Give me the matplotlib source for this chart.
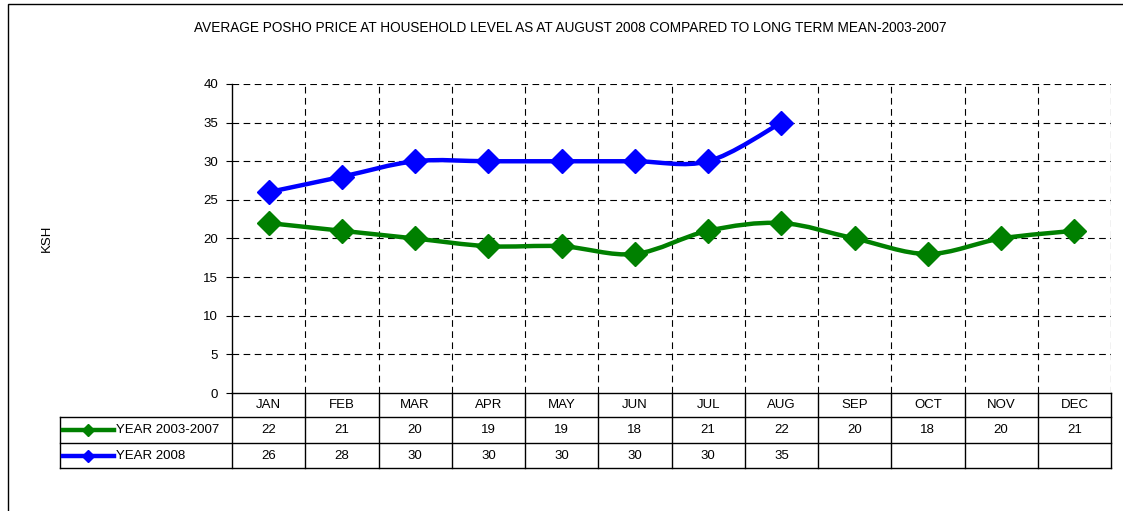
import numpy as np
import matplotlib
matplotlib.use("Agg")
import matplotlib.pyplot as plt
from matplotlib.path import Path
from matplotlib.patches import PathPatch, Rectangle
from matplotlib.lines import Line2D

plt.rcParams['font.family'] = ['Liberation Sans', 'DejaVu Sans']

# data
months = ['JAN', 'FEB', 'MAR', 'APR', 'MAY', 'JUN', 'JUL', 'AUG', 'SEP', 'OCT', 'NOV', 'DEC']
mean_2003_2007 = [22, 21, 20, 19, 19, 18, 21, 22, 20, 18, 20, 21]
year_2008 = [26, 28, 30, 30, 30, 30, 30, 35]
series_names = ['YEAR 2003-2007', 'YEAR 2008']
series_colors = ['#008000', '#0000FF']
title = "AVERAGE POSHO PRICE AT HOUSEHOLD LEVEL AS AT AUGUST 2008 COMPARED TO LONG TERM MEAN-2003-2007"


def smooth_path(x, y):
    # Catmull-Rom style bezier through the points (like Excel smoothed lines)
    pts = np.column_stack([x, y]).astype(float)
    n = len(pts)
    verts = [pts[0]]
    codes = [Path.MOVETO]
    for i in range(n - 1):
        p0 = pts[i - 1] if i > 0 else pts[i]
        p1 = pts[i]
        p2 = pts[i + 1]
        p3 = pts[i + 2] if i + 2 < n else pts[i + 1]
        c1 = p1 + (p2 - p0) / 6.0
        c2 = p2 - (p3 - p1) / 6.0
        verts += [c1, c2, p2]
        codes += [Path.CURVE4] * 3
    return Path(verts, codes)


W, H = 1123, 511
fs = 9.5
fig = plt.figure(figsize=(W / 100, H / 100), dpi=100)

# outer chart frame (only left and top edges fall inside the picture)
fig.add_artist(Rectangle((8 / W, -0.1), 1.2, 1.1 - 4 / H, transform=fig.transFigure,
                         fill=False, edgecolor='black', linewidth=1.0))

ax_l, ax_r, ax_t, ax_b = 232, 1111, 84, 393
ax = fig.add_axes([ax_l / W, 1 - ax_b / H, (ax_r - ax_l) / W, (ax_b - ax_t) / H])

x = np.arange(len(months))
ax.set_xlim(-0.5, len(months) - 0.5)
ax.set_ylim(0, 40)
ax.set_yticks(np.arange(0, 41, 5))
ax.set_xticks([])
ax.tick_params(axis='y', labelsize=fs, length=4, width=0.8, direction='out', pad=6)
ax.set_ylabel('KSH', fontsize=fs, labelpad=0)
ax.yaxis.set_label_coords(-(ax_l - 53) / (ax_r - ax_l), 0.5)

for s in ['top', 'right']:
    ax.spines[s].set_visible(False)
for s in ['left', 'bottom']:
    ax.spines[s].set_linewidth(1.0)

# dashed grid
for yv in np.arange(5, 41, 5):
    ax.axhline(yv, color='black', linestyle=(0, (6, 4)), linewidth=0.8, zorder=1)
for xv in np.arange(0.5, len(months), 1):
    ax.axvline(xv, color='black', linestyle=(0, (6, 4)), linewidth=0.8, zorder=1)

series = [mean_2003_2007, year_2008]
for vals, col in zip(series, series_colors):
    xs = x[:len(vals)]
    ax.add_patch(PathPatch(smooth_path(xs, vals), facecolor='none', edgecolor=col,
                           linewidth=3.2, zorder=3, capstyle='round', joinstyle='round'))
    ax.plot(xs, vals, linestyle='none', marker='D', markersize=12, color=col, zorder=4)

# data table under the axes
def py(px):
    return (ax_b - px) / (ax_b - ax_t)

def pxa(px):
    return (px - ax_l) / (ax_r - ax_l)

trans = ax.get_xaxis_transform()
row_lines = [417, 443, 468]
tab_left = 60
kw = dict(color='black', linewidth=1.0, clip_on=False, zorder=5)

for r in row_lines:
    ax.add_line(Line2D([pxa(tab_left), 1], [py(r), py(r)], transform=ax.transAxes, **kw))
ax.add_line(Line2D([pxa(tab_left), pxa(tab_left)], [py(417), py(468)], transform=ax.transAxes, **kw))
for xv in np.arange(-0.5, len(months), 1):
    ax.add_line(Line2D([xv, xv], [py(393), py(468)], transform=trans, **kw))

rows_y = [(393 + 417) / 2, (417 + 443) / 2, (443 + 468) / 2]
for i, m in enumerate(months):
    ax.text(i, py(rows_y[0]), m, transform=trans, ha='center', va='center', fontsize=fs)
for vals, ry in zip(series, rows_y[1:]):
    for i, v in enumerate(vals):
        ax.text(i, py(ry), str(v), transform=trans, ha='center', va='center', fontsize=fs)

# legend keys inside the table
for name, col, ry in zip(series_names, series_colors, rows_y[1:]):
    ax.add_line(Line2D([pxa(63), pxa(114)], [py(ry), py(ry)], transform=ax.transAxes,
                       color=col, linewidth=3.2, clip_on=False, zorder=6))
    ax.add_line(Line2D([pxa(88)], [py(ry)], transform=ax.transAxes, marker='D', markersize=6,
                       color=col, linestyle='none', clip_on=False, zorder=7))
    ax.text(pxa(116), py(ry), name, transform=ax.transAxes, ha='left', va='center', fontsize=fs)

fig.text(570 / W, 1 - 28 / H, title, ha='center', va='center', fontsize=9.8)

fig.savefig('out.png', dpi=100)
